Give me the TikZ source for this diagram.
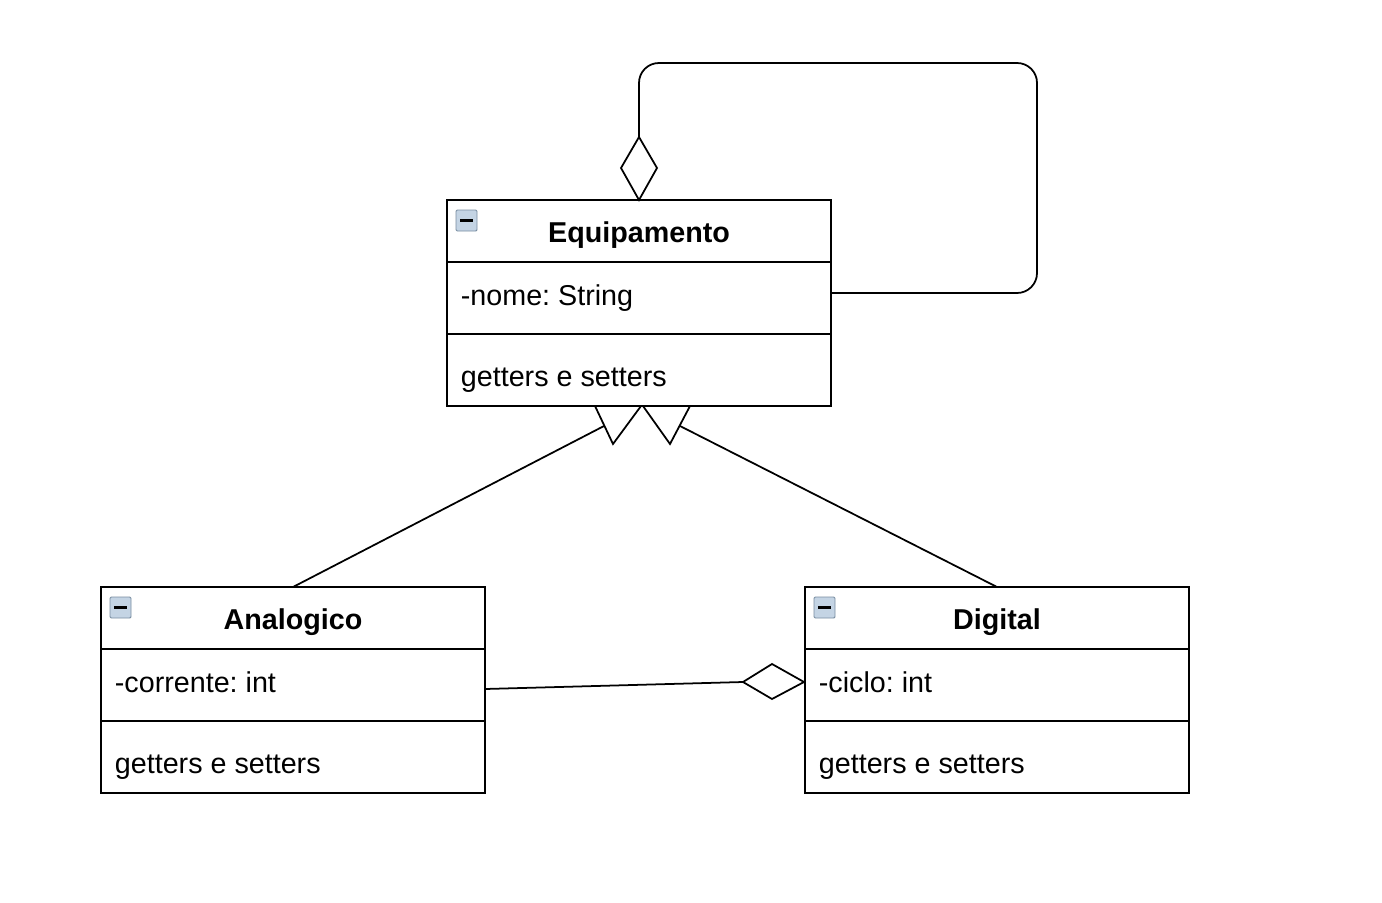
\documentclass[tikz,border=0pt]{standalone}
\usepackage{fontspec}
\setmainfont{Liberation Sans}
\usepackage{xcolor}
\usepackage{tikz}
\usetikzlibrary{positioning}
\definecolor{iconfill}{RGB}{196,212,228}
\definecolor{icondraw}{RGB}{120,140,160}
\frenchspacing

\begin{document}
\begin{tikzpicture}[x=0.03cm,y=-0.03cm,line width=1.5pt,
  txt/.style={font=\fontsize{24.5}{29}\selectfont,inner sep=0pt},
  umlclass/.style={draw,minimum width=11.52cm,minimum height=6.18cm,inner sep=0pt,outer sep=0pt,anchor=north west},
  hollow/.style={draw,fill=white,line join=miter}]
\useasboundingbox (0,0) rectangle (1382,902);
\foreach \n/\x/\y/\t/\a in {eq/447/200/Equipamento/-nome: String, ana/101/587/Analogico/-corrente: int, dig/805/587/Digital/-ciclo: int}{
  \node[umlclass] (\n) at (\x,\y) {};
  \draw (\x,\y+62) -- ++(384,0);
  \draw (\x,\y+134) -- ++(384,0);
  \node[txt,font=\fontsize{24.5}{29}\selectfont\bfseries,anchor=base] (\n-title) at (\x+192,\y+42) {\t};
  \node[txt,anchor=base west] (\n-attr) at (\x+13,\y+105) {\a};
  \node[txt,anchor=base west] (\n-ops) at (\x+13,\y+186) {getters e setters};
  \draw[line width=0.8pt,draw=icondraw,fill=iconfill,rounded corners=1pt] (\x+9,\y+10) rectangle ++(21,21);
  \draw[line width=1.8pt] (\x+13,\y+20.5) -- ++(13,0);
}
% self aggregation
\coordinate (loopend) at (831,293);
\draw[rounded corners=17] (loopend) -- (1037,293) -- (1037,63) -- (639,63) -- (639,137);
\draw[hollow] (639,200) -- (621,168) -- (639,137) -- (657,168) -- cycle;
% inheritance
\draw[hollow] (595,406) -- (641,406) -- (613,444) -- cycle;
\draw[hollow] (643,406) -- (690,406) -- (670,444) -- cycle;
\coordinate (tri1) at (604,426);
\coordinate (tri2) at (680,426);
\draw (ana.north) -- (tri1);
\draw (dig.north) -- (tri2);
% aggregation
\coordinate (agg) at (743,682);
\draw (485,689) -- (agg);
\draw[hollow] (agg) -- (772,664) -- (804,682) -- (772,699) -- cycle;
\end{tikzpicture}
\end{document}
